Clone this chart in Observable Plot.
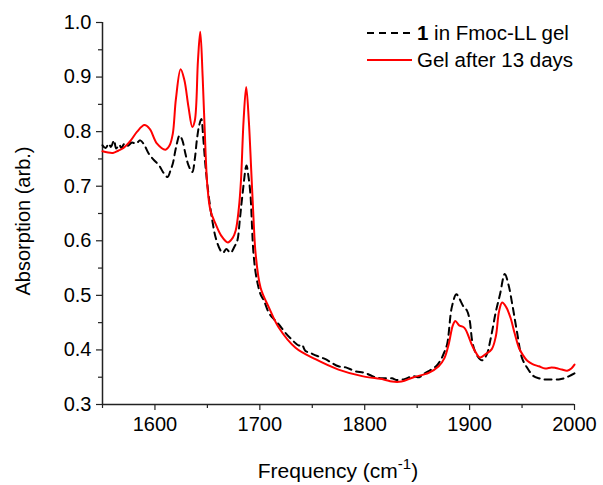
<!DOCTYPE html>
<html>
<head>
<meta charset="utf-8">
<script src="https://cdn.jsdelivr.net/npm/d3@7"></script>
<script src="https://cdn.jsdelivr.net/npm/@observablehq/plot@0.6"></script>
<style>
  html, body { margin: 0; padding: 0; background: #fff; }
  #wrap { position: relative; width: 603px; height: 485px; font-family: "Liberation Sans", Arial, sans-serif; }
  #legend { position: absolute; left: 366px; top: 19px; font-size: 20.5px; line-height: 27px; color: #000; }
  #legend div { display: flex; align-items: center; white-space: nowrap; }
  #legend svg { margin-right: 5px; }
</style>
</head>
<body>
<div id="wrap">
  <div id="chart"></div>
  <div id="legend">
    <div><svg width="46" height="10"><line x1="1" x2="46" y1="5" y2="5" stroke="#000" stroke-width="2" stroke-dasharray="7,5"/></svg><span><b>1</b> in Fmoc-LL gel</span></div>
    <div><svg width="46" height="10"><line x1="1" x2="46" y1="5" y2="5" stroke="#ff0000" stroke-width="2"/></svg><span>Gel after 13 days</span></div>
  </div>
</div>
<script>
// Series: "1 in Fmoc-LL gel" (black dashed)
const fmocFreq = [1550,1553,1556,1558,1561,1563,1566,1568,1571,1574,1578,1582,1586,1590,1594,1599,1604,1608,1612,1615,1617,1620,1623.5,1626,1629,1632,1635.6,1638,1640,1642,1644.2,1646,1648,1651,1654.7,1658,1662.6,1665,1668,1672,1676,1678.5,1681,1683.2,1687.3,1689,1691,1694,1697,1700.7,1704,1708.6,1714,1718,1725,1732,1737,1740,1743.5,1748,1751,1756,1762.6,1768,1775,1782,1791,1800,1810,1818,1826,1830,1837,1846,1852,1857,1862.6,1868,1872,1875,1878.5,1883,1887.3,1890,1894,1897.5,1900,1903,1907,1911.8,1916,1920,1925,1929,1933.5,1937,1941,1945,1950,1955,1961,1966,1971,1977,1985,1990,1995,2000];
const fmocAbs = [0.775,0.770,0.778,0.772,0.784,0.769,0.776,0.770,0.778,0.774,0.780,0.778,0.784,0.775,0.760,0.748,0.738,0.725,0.717,0.730,0.741,0.770,0.793,0.785,0.760,0.738,0.726,0.750,0.785,0.810,0.823,0.790,0.741,0.686,0.637,0.605,0.582,0.578,0.585,0.578,0.590,0.600,0.640,0.680,0.738,0.720,0.686,0.576,0.530,0.502,0.490,0.468,0.455,0.447,0.430,0.416,0.408,0.410,0.398,0.395,0.392,0.388,0.383,0.377,0.370,0.368,0.361,0.358,0.350,0.348,0.348,0.345,0.346,0.352,0.350,0.357,0.363,0.370,0.380,0.392,0.410,0.478,0.502,0.495,0.480,0.472,0.455,0.411,0.390,0.381,0.390,0.420,0.470,0.502,0.539,0.520,0.480,0.435,0.385,0.367,0.352,0.348,0.346,0.346,0.346,0.348,0.352,0.357];

// Series: "Gel after 13 days" (red)
const gelFreq = [1550,1560,1565,1570,1577,1583,1590,1595,1602,1610,1614,1617,1620,1624.5,1628,1632,1635.6,1638,1641,1643.2,1645.5,1648.3,1650,1653,1657.8,1663,1669.5,1674,1677,1680,1682,1684.5,1687,1689.5,1691.8,1694,1696,1700.7,1708.6,1718,1734,1753,1775,1797.5,1818,1826,1835,1846.7,1861,1870.5,1876,1880,1884,1886.4,1890,1894,1896,1899,1902,1906,1910,1915,1921,1925,1928,1931,1935,1939,1943,1947,1951,1955,1960,1966,1972,1978,1982,1988,1993,1997,2000];
const gelAbs = [0.764,0.761,0.765,0.770,0.784,0.800,0.812,0.805,0.778,0.767,0.775,0.796,0.860,0.9145,0.895,0.845,0.8085,0.820,0.930,0.983,0.900,0.760,0.700,0.655,0.631,0.610,0.597,0.605,0.619,0.660,0.710,0.820,0.882,0.820,0.729,0.640,0.576,0.514,0.478,0.441,0.404,0.383,0.364,0.352,0.346,0.342,0.342,0.350,0.358,0.370,0.385,0.410,0.445,0.453,0.445,0.442,0.438,0.425,0.410,0.395,0.386,0.392,0.401,0.425,0.470,0.487,0.478,0.459,0.430,0.404,0.390,0.380,0.374,0.370,0.366,0.368,0.367,0.364,0.362,0.366,0.373];

const xTicks = [1600,1700,1800,1900,2000];
const xMinor = [1550,1650,1750,1850,1950];
const yTicks = [0.3,0.4,0.5,0.6,0.7,0.8,0.9,1.0];
const yMinor = [0.35,0.45,0.55,0.65,0.75,0.85,0.95];
const xDomain = [1550, 2000];
const yDomain = [0.3, 1.0];
const xLabel = "Frequency (cm";
const xLabelSup = "-1";
const yLabel = "Absorption (arb.)";

const fmoc = fmocFreq.map((f, i) => ({f, a: fmocAbs[i]}));
const gel = gelFreq.map((f, i) => ({f, a: gelAbs[i]}));

const chart = Plot.plot({
  width: 603,
  height: 485,
  marginLeft: 102,
  marginRight: 29,
  marginTop: 22,
  marginBottom: 81,
  style: {fontFamily: "'Liberation Sans', Arial, sans-serif", fontSize: "20px", color: "#000", background: "#fff", overflow: "visible"},
  x: {domain: xDomain},
  y: {domain: yDomain},
  marks: [
    Plot.axisX({ticks: xTicks, tickSize: 6, tickPadding: 6, tickFormat: d => String(d), label: null, stroke: "#222", strokeWidth: 1.2}),
    Plot.axisX({ticks: xMinor, tickSize: 4, tickFormat: () => "", label: null, stroke: "#222", strokeWidth: 1.2}),
    Plot.axisY({ticks: yTicks, tickSize: 6, tickPadding: 5, tickFormat: d3.format(".1f"), label: null, stroke: "#222", strokeWidth: 1.2}),
    Plot.axisY({ticks: yMinor, tickSize: 4, tickFormat: () => "", label: null, stroke: "#222", strokeWidth: 1.2}),
    Plot.ruleX([xDomain[0]], {stroke: "#222", strokeWidth: 1.5}),
    Plot.ruleY([yDomain[0]], {stroke: "#222", strokeWidth: 1.5}),
    Plot.line(fmoc, {x: "f", y: "a", stroke: "#000", strokeWidth: 2, strokeDasharray: "7,5", curve: "catmull-rom"}),
    Plot.line(gel, {x: "f", y: "a", stroke: "#ff0000", strokeWidth: 2, curve: "catmull-rom"})
  ]
});

document.getElementById("chart").appendChild(chart);

// axis titles (with superscript), positioned from the scales
const sx = chart.scale("x"), sy = chart.scale("y");
const svg = d3.select(chart);
const cx = (sx.apply(xDomain[0]) + sx.apply(xDomain[1])) / 2;
const xt = svg.append("text")
  .attr("x", cx).attr("y", 478)
  .attr("text-anchor", "middle")
  .attr("font-size", 21)
  .attr("fill", "#000");
xt.append("tspan").text(xLabel);
xt.append("tspan").attr("dy", -9).attr("font-size", 15).text(xLabelSup);
xt.append("tspan").attr("dy", 9).text(")");

const cy = (sy.apply(yDomain[0]) + sy.apply(yDomain[1])) / 2 + 8;
svg.append("text")
  .attr("transform", `translate(30,${cy}) rotate(-90)`)
  .attr("text-anchor", "middle")
  .attr("font-size", 20)
  .attr("fill", "#000")
  .text(yLabel);
</script>
</body>
</html>
